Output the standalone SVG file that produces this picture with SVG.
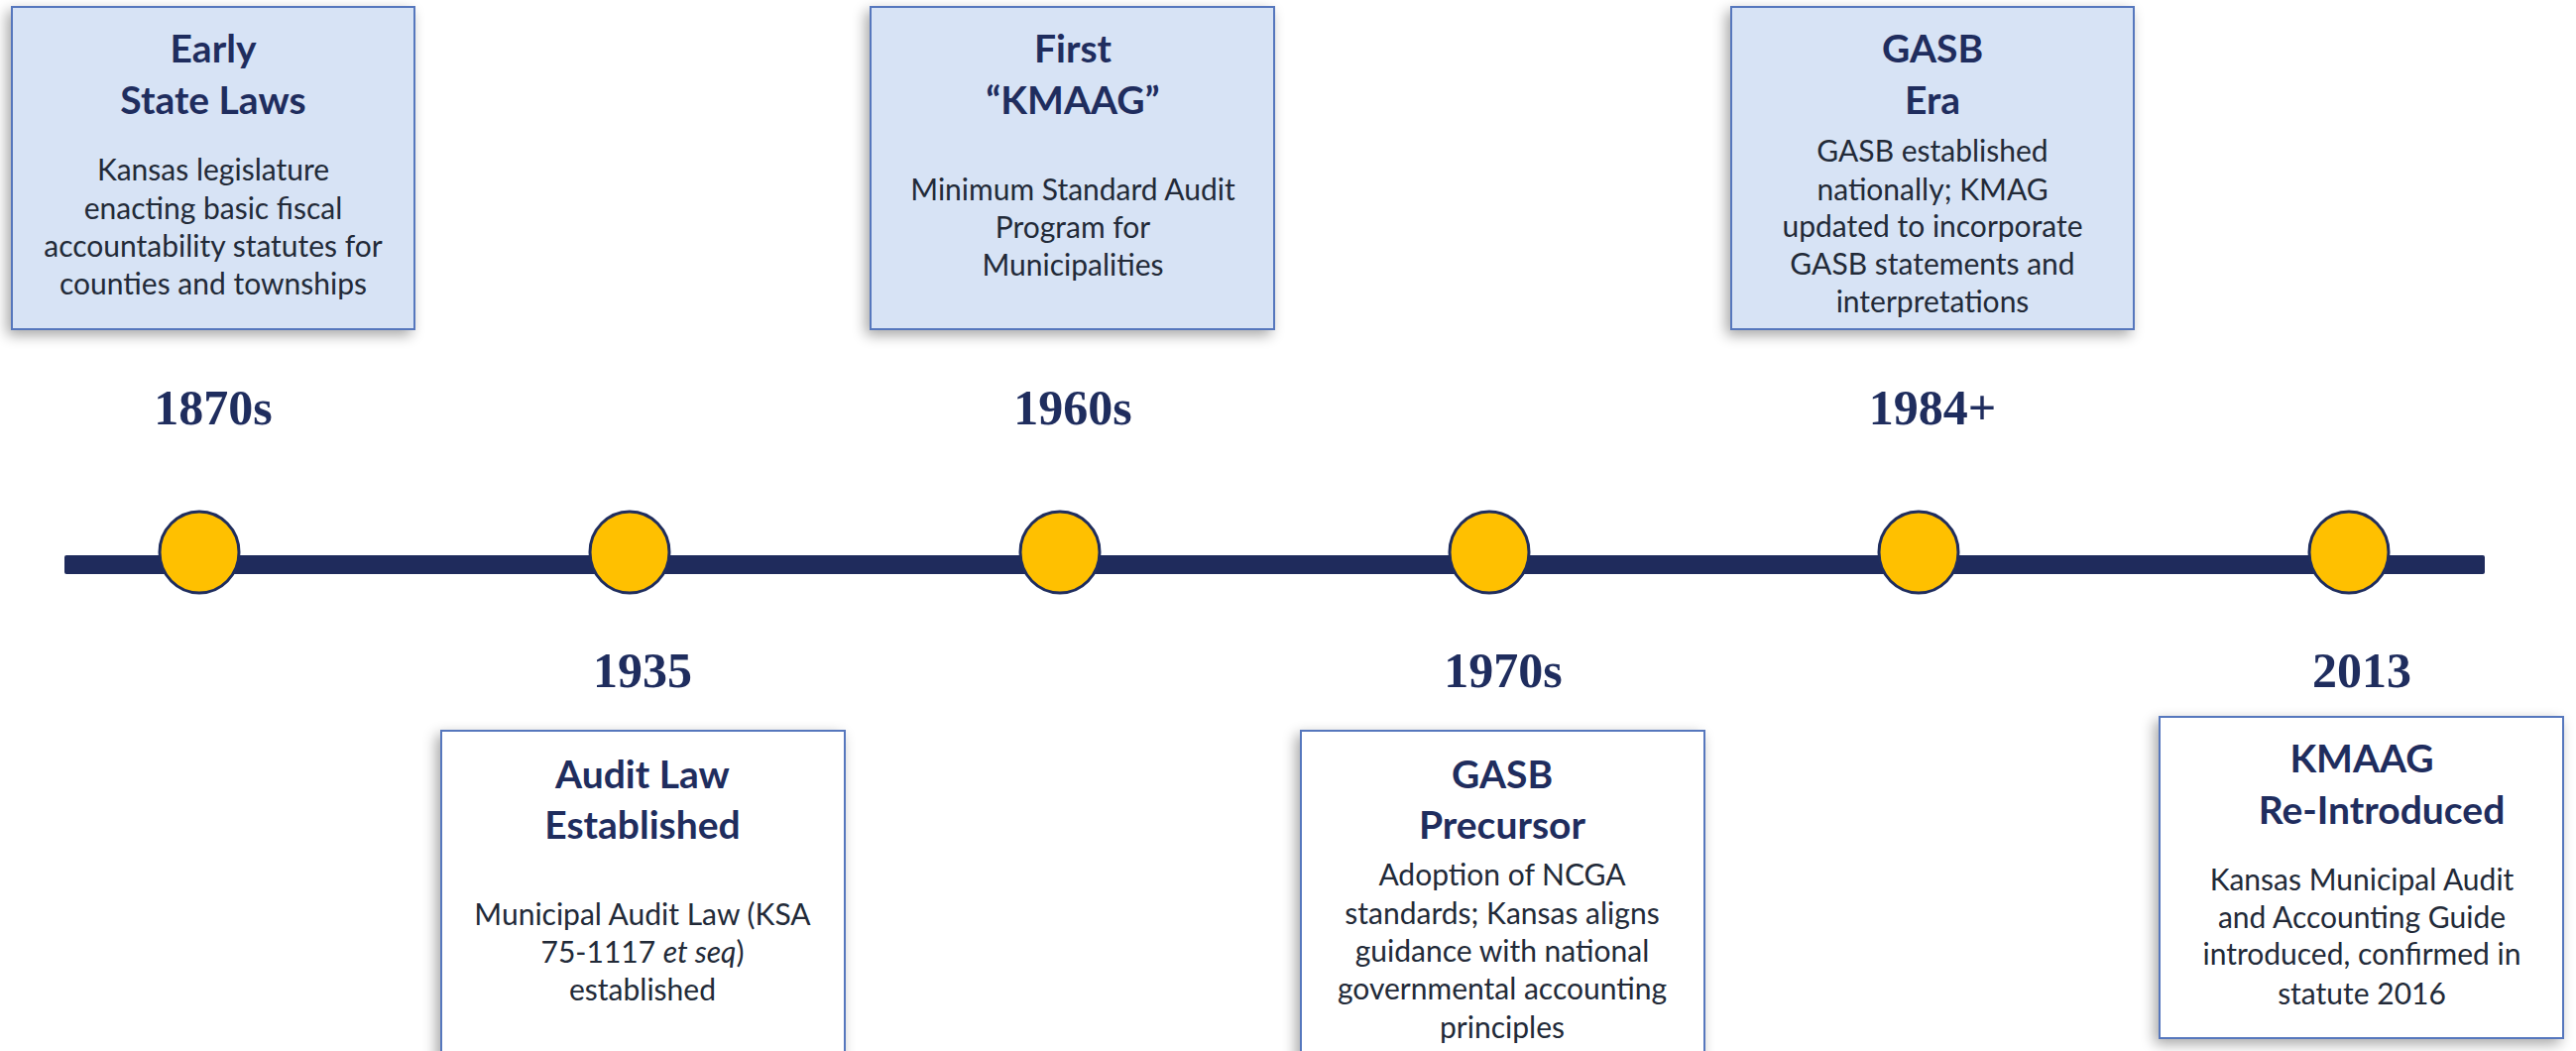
<svg xmlns="http://www.w3.org/2000/svg" width="2598" height="1060" viewBox="0 0 2598 1060">
  <defs>
    <filter id="shadow" x="-10%" y="-10%" width="120%" height="125%">
      <feGaussianBlur in="SourceAlpha" stdDeviation="7"/>
      <feOffset dx="-4" dy="5" result="b"/>
      <feComponentTransfer><feFuncA type="linear" slope="0.35"/></feComponentTransfer>
      <feMerge><feMergeNode/><feMergeNode in="SourceGraphic"/></feMerge>
    </filter>
    <style>
      .card-top { fill: #D7E3F5; stroke: #5777BD; stroke-width: 2; }
      .card-bot { fill: #FFFFFF; stroke: #5777BD; stroke-width: 2; }
      .title { font-family: Lato, "Open Sans", sans-serif; font-weight: 700; font-size: 39px; fill: #1F2D5E; text-anchor: middle; }
      .body { font-family: Lato, "Open Sans", sans-serif; font-weight: 400; font-size: 30px; fill: #222A38; text-anchor: middle; }
      .year { font-family: "Liberation Serif", "DejaVu Serif", serif; font-weight: 700; font-size: 50px; fill: #1F2D5E; text-anchor: middle; }
      .dot { fill: #FFC000; stroke: #1F2D5E; stroke-width: 3; }
      .bar { fill: #1F2B5C; }
    </style>
  </defs>

  <rect width="2598" height="1060" fill="#FFFFFF"/>

  <!-- timeline axis -->
  <g id="connectors">
    <rect class="bar" x="65" y="560" width="2441" height="19" rx="2"/>
  </g>

  <!-- 1870s -->
  <g id="node-1870s">
    <rect class="card-top" x="12" y="7" width="406" height="325" filter="url(#shadow)"/>
    <text class="title" x="215" y="63">Early</text>
    <text class="title" x="215" y="115">State Laws</text>
    <text class="body" x="215" y="182">Kansas legislature</text>
    <text class="body" x="215" y="221">enacting basic fiscal</text>
    <text class="body" x="215" y="259">accountability statutes for</text>
    <text class="body" x="215" y="297">counties and townships</text>
    <text class="year" x="215" y="428">1870s</text>
    <ellipse class="dot" cx="201" cy="557" rx="40" ry="41"/>
  </g>

  <!-- 1935 -->
  <g id="node-1935">
    <rect class="card-bot" x="445" y="737" width="407" height="340" filter="url(#shadow)"/>
    <text class="title" x="648" y="795">Audit Law</text>
    <text class="title" x="648" y="846">Established</text>
    <text class="body" x="648" y="933">Municipal Audit Law (KSA</text>
    <text class="body" x="648" y="971">75-1117 <tspan font-style="italic">et seq</tspan>)</text>
    <text class="body" x="648" y="1009">established</text>
    <text class="year" x="648" y="693">1935</text>
    <ellipse class="dot" cx="635" cy="557" rx="40" ry="41"/>
  </g>

  <!-- 1960s -->
  <g id="node-1960s">
    <rect class="card-top" x="878" y="7" width="407" height="325" filter="url(#shadow)"/>
    <text class="title" x="1082" y="63">First</text>
    <text class="title" x="1082" y="115">“KMAAG”</text>
    <text class="body" x="1082" y="202">Minimum Standard Audit</text>
    <text class="body" x="1082" y="240">Program for</text>
    <text class="body" x="1082" y="278">Municipalities</text>
    <text class="year" x="1082" y="428">1960s</text>
    <ellipse class="dot" cx="1069" cy="557" rx="40" ry="41"/>
  </g>

  <!-- 1970s -->
  <g id="node-1970s">
    <rect class="card-bot" x="1312" y="737" width="407" height="340" filter="url(#shadow)"/>
    <text class="title" x="1515" y="795">GASB</text>
    <text class="title" x="1515" y="846">Precursor</text>
    <text class="body" x="1515" y="893">Adoption of NCGA</text>
    <text class="body" x="1515" y="932">standards; Kansas aligns</text>
    <text class="body" x="1515" y="970">guidance with national</text>
    <text class="body" x="1515" y="1008">governmental accounting</text>
    <text class="body" x="1515" y="1047">principles</text>
    <text class="year" x="1516" y="693">1970s</text>
    <ellipse class="dot" cx="1502" cy="557" rx="40" ry="41"/>
  </g>

  <!-- 1984+ -->
  <g id="node-1984">
    <rect class="card-top" x="1746" y="7" width="406" height="325" filter="url(#shadow)"/>
    <text class="title" x="1949" y="63">GASB</text>
    <text class="title" x="1949" y="115">Era</text>
    <text class="body" x="1949" y="163">GASB established</text>
    <text class="body" x="1949" y="202">nationally; KMAG</text>
    <text class="body" x="1949" y="239">updated to incorporate</text>
    <text class="body" x="1949" y="277">GASB statements and</text>
    <text class="body" x="1949" y="315">interpretations</text>
    <text class="year" x="1949" y="428">1984+</text>
    <ellipse class="dot" cx="1935" cy="557" rx="40" ry="41"/>
  </g>

  <!-- 2013 -->
  <g id="node-2013">
    <rect class="card-bot" x="2178" y="723" width="407" height="324" filter="url(#shadow)"/>
    <text class="title" x="2382" y="779">KMAAG</text>
    <text class="title" x="2402" y="831">Re-Introduced</text>
    <text class="body" x="2382" y="898">Kansas Municipal Audit</text>
    <text class="body" x="2382" y="936">and Accounting Guide</text>
    <text class="body" x="2382" y="973">introduced, confirmed in</text>
    <text class="body" x="2382" y="1013">statute 2016</text>
    <text class="year" x="2382" y="693">2013</text>
    <ellipse class="dot" cx="2369" cy="557" rx="40" ry="41"/>
  </g>
</svg>
